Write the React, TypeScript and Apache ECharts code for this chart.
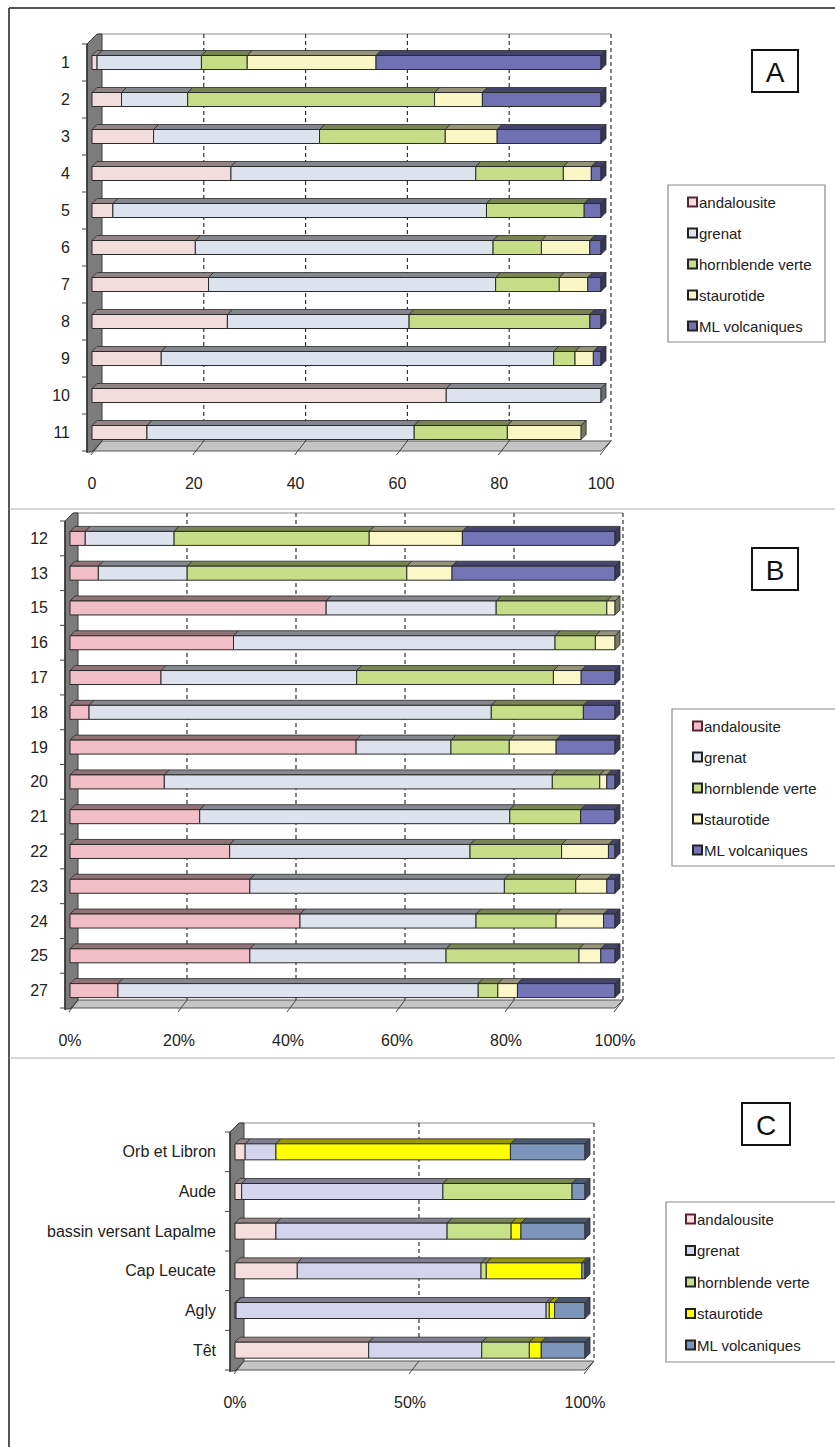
import { useEffect, useRef } from "react";
import * as echarts from "echarts";

// Heavy-mineral assemblages (percent of the counted grains)
const MINERALS = ["andalousite", "grenat", "hornblende verte", "staurotide", "ML volcaniques"];

// Panel A — samples 1 to 11
const CATEGORIES_A = ["1", "2", "3", "4", "5", "6", "7", "8", "9", "10", "11"];
const ANDALOUSITE_A = [1, 5.8, 12.1, 27.3, 4.1, 20.3, 22.9, 26.6, 13.6, 69.6, 10.8];
const GRENAT_A = [20.5, 13, 32.6, 48.1, 73.4, 58.5, 56.4, 35.7, 77.1, 30.4, 52.5];
const HORNBLENDE_A = [9, 48.5, 24.7, 17.2, 19.2, 9.5, 12.5, 35.5, 4.2, 0, 18.3];
const STAUROTIDE_A = [25.3, 9.4, 10.2, 5.5, 0, 9.5, 5.6, 0, 3.6, 0, 14.5];
const ML_A = [44.2, 23.3, 20.4, 1.9, 3.3, 2.2, 2.6, 2.2, 1.5, 0, 0];
const TICKS_A = [0, 20, 40, 60, 80, 100];

// Panel B — samples 12 to 27
const CATEGORIES_B = ["12", "13", "15", "16", "17", "18", "19", "20", "21", "22", "23", "24", "25", "27"];
const ANDALOUSITE_B = [2.8, 5.2, 47, 30, 16.7, 3.5, 52.5, 17.3, 23.8, 29.3, 33, 42.2, 33, 8.8];
const GRENAT_B = [16.3, 16.3, 31.2, 59, 35.9, 73.8, 17.4, 71.2, 56.9, 44.1, 46.7, 32.3, 36, 66.1];
const HORNBLENDE_B = [35.8, 40.3, 20.3, 7.4, 36.1, 16.9, 10.7, 8.7, 13, 16.8, 13.1, 14.7, 24.4, 3.6];
const STAUROTIDE_B = [17.1, 8.3, 1.5, 3.6, 5.1, 0, 8.6, 1.3, 0, 8.6, 5.7, 8.7, 4, 3.6];
const ML_B = [28, 29.9, 0, 0, 6.2, 5.8, 10.8, 1.5, 6.3, 1.2, 1.5, 2.1, 2.6, 17.9];
const TICKS_B = [0, 20, 40, 60, 80, 100];

// Panel C — river catchments and coastal sites
const CATEGORIES_C = ["Orb et Libron", "Aude", "bassin versant Lapalme", "Cap Leucate", "Agly", "Têt"];
const ANDALOUSITE_C = [2.9, 1.9, 11.7, 17.8, 0.3, 38.2];
const GRENAT_C = [8.8, 57.5, 48.9, 52.5, 88.6, 32.3];
const HORNBLENDE_C = [0, 36.9, 18.3, 1.5, 0.9, 13.6];
const STAUROTIDE_C = [67, 0, 2.8, 27.3, 1.5, 3.4];
const ML_C = [21.3, 3.7, 18.3, 0.9, 8.7, 12.5];
const TICKS_C = [0, 50, 100];

const COLORS_A = ["#f3dcdc", "#dce3ed", "#c6dc86", "#faf7c6", "#7070b2"];
const COLORS_B = ["#f1bec7", "#dde2ec", "#c8dd88", "#faf7c8", "#7474b6"];
const COLORS_C = ["#f6dede", "#d4d4ee", "#c8e08a", "#ffff00", "#7d95ba"];

const FONT = '"Liberation Sans", Arial, sans-serif';
const INK = "#222";

type Panel = {
  key: string;
  categories: string[];
  columns: number[][];
  ticks: number[];
  colors: string[];
  percent: boolean;
  grid: { left: number; top: number; width: number; height: number };
  depth: number; // offset of the back wall
  barH: number;
  barD: number;
  labelMargin: number;
  catMargin: number;
  letter: { x: number; y: number; w: number; h: number };
  legend: { x: number; y: number; w: number; h: number; first: number; step: number; mx: number };
};

const PANELS: Panel[] = [
  {
    key: "A",
    categories: CATEGORIES_A,
    columns: [ANDALOUSITE_A, GRENAT_A, HORNBLENDE_A, STAUROTIDE_A, ML_A],
    ticks: TICKS_A,
    colors: COLORS_A,
    percent: false,
    grid: { left: 92, top: 44, width: 509, height: 407 },
    depth: 10,
    barH: 14,
    barD: 5,
    labelMargin: 24,
    catMargin: 22,
    letter: { x: 752, y: 50, w: 46, h: 42 },
    legend: { x: 668, y: 185, w: 157, h: 157, first: 202, step: 31, mx: 688 },
  },
  {
    key: "B",
    categories: CATEGORIES_B,
    columns: [ANDALOUSITE_B, GRENAT_B, HORNBLENDE_B, STAUROTIDE_B, ML_B],
    ticks: TICKS_B,
    colors: COLORS_B,
    percent: true,
    grid: { left: 70, top: 521, width: 545, height: 487 },
    depth: 8,
    barH: 14,
    barD: 5,
    labelMargin: 24,
    catMargin: 22,
    letter: { x: 752, y: 548, w: 46, h: 42 },
    legend: { x: 672, y: 709, w: 175, h: 157, first: 726, step: 31, mx: 693 },
  },
  {
    key: "C",
    categories: CATEGORIES_C,
    columns: [ANDALOUSITE_C, GRENAT_C, HORNBLENDE_C, STAUROTIDE_C, ML_C],
    ticks: TICKS_C,
    colors: COLORS_C,
    percent: true,
    grid: { left: 235, top: 1132, width: 350, height: 238 },
    depth: 9,
    barH: 16,
    barD: 5,
    labelMargin: 24,
    catMargin: 19,
    letter: { x: 742, y: 1103, w: 48, h: 42 },
    legend: { x: 666, y: 1202, w: 180, h: 160, first: 1219, step: 31.5, mx: 686 },
  },
];

function shade(hex: string, f: number): string {
  const n = parseInt(hex.slice(1), 16);
  const r = Math.round(((n >> 16) & 255) * f);
  const g = Math.round(((n >> 8) & 255) * f);
  const b = Math.round((n & 255) * f);
  return `rgb(${r},${g},${b})`;
}

// Turns per-mineral columns into stacked segments [row, start, end, isLastOfRow]
function stackRows(columns: number[][]): number[][][] {
  const n = columns[0].length;
  const out: number[][][] = columns.map(() => []);
  for (let r = 0; r < n; r++) {
    let lastM = -1;
    columns.forEach((col, m) => {
      if (col[r] > 0) lastM = m;
    });
    let acc = 0;
    columns.forEach((col, m) => {
      const v = col[r];
      if (v > 0) out[m].push([r, acc, acc + v, m === lastM ? 1 : 0]);
      acc += v;
    });
  }
  return out;
}

function barRenderer(color: string, h: number, d: number) {
  const topFill = shade(color, 0.6);
  const sideFill = shade(color, 0.48);
  const edge = "#2a2a2a";
  return (_params: any, api: any) => {
    const cat = api.value(0);
    const a = api.coord([api.value(1), cat]);
    const b = api.coord([api.value(2), cat]);
    const x0 = a[0];
    const x1 = b[0];
    const y0 = a[1] - h / 2;
    const children: any[] = [
      {
        type: "polygon",
        shape: { points: [[x0, y0], [x1, y0], [x1 + d, y0 - d], [x0 + d, y0 - d]] },
        style: { fill: topFill, stroke: edge, lineWidth: 0.8 },
      },
      {
        type: "rect",
        shape: { x: x0, y: y0, width: x1 - x0, height: h },
        style: { fill: color, stroke: edge, lineWidth: 1 },
      },
    ];
    if (api.value(3)) {
      children.push({
        type: "polygon",
        shape: { points: [[x1, y0], [x1 + d, y0 - d], [x1 + d, y0 + h - d], [x1, y0 + h]] },
        style: { fill: sideFill, stroke: edge, lineWidth: 0.8 },
      });
    }
    return { type: "group", children };
  };
}

// Back wall, floor and side wall of the 3-D plot area
function decorRenderer(n: number, ticks: number[], D: number) {
  return (params: any, api: any) => {
    const cs = params.coordSys;
    const L = cs.x;
    const T = cs.y;
    const R = cs.x + cs.width;
    const B = cs.y + cs.height;
    const children: any[] = [];
    children.push({
      type: "rect",
      shape: { x: L + D, y: T - D, width: R - L, height: B - T },
      style: { fill: "#fff" },
    });
    children.push({
      type: "line",
      shape: { x1: L + D - 4, y1: T - D, x2: R + D, y2: T - D },
      style: { stroke: "#8c8c8c", lineWidth: 1.2 },
    });
    ticks.forEach((v) => {
      if (v === 0) return;
      const x = api.coord([v, 0])[0] + D;
      children.push({
        type: "line",
        shape: { x1: x, y1: T - D, x2: x, y2: B - D },
        style: { stroke: "#333", lineWidth: 1.2, lineDash: [4, 3] },
      });
    });
    children.push({
      type: "polygon",
      shape: { points: [[L - 5, B], [R, B], [R + D, B - D], [L - 5 + D, B - D]] },
      style: { fill: "#c4c4c4", stroke: "#555", lineWidth: 1 },
    });
    ticks.forEach((v) => {
      const x = api.coord([v, 0])[0];
      children.push({
        type: "line",
        shape: { x1: x - 1, y1: B + 4, x2: x + D, y2: B - D },
        style: { stroke: "#444", lineWidth: 1 },
      });
    });
    children.push({
      type: "polygon",
      shape: { points: [[L - 5, B + 1], [L - 5, T], [L - 5 + D, T - D], [L + D, T - D], [L + D, B - D], [L, B + 1]] },
      style: { fill: "#7c7c7c", stroke: "#3a3a3a", lineWidth: 1 },
    });
    children.push({
      type: "line",
      shape: { x1: L - 5, y1: T, x2: L - 5, y2: B + 2 },
      style: { stroke: "#333", lineWidth: 1.5 },
    });
    for (let i = 0; i <= n; i++) {
      const y = T + (i * (B - T)) / n;
      children.push({
        type: "line",
        shape: { x1: L - 10, y1: y, x2: L - 5, y2: y },
        style: { stroke: "#444", lineWidth: 1 },
      });
    }
    return { type: "group", children };
  };
}

function buildOption() {
  const grid: any[] = [];
  const xAxis: any[] = [];
  const yAxis: any[] = [];
  const series: any[] = [];
  const graphic: any[] = [];

  // outer frame and panel separators
  graphic.push(
    { type: "line", shape: { x1: 9, y1: 8, x2: 835, y2: 8 }, style: { stroke: "#555", lineWidth: 2 } },
    { type: "line", shape: { x1: 9, y1: 8, x2: 9, y2: 1447 }, style: { stroke: "#555", lineWidth: 2 } },
    { type: "line", shape: { x1: 9, y1: 509, x2: 835, y2: 509 }, style: { stroke: "#b0b0b0", lineWidth: 1 } },
    { type: "line", shape: { x1: 9, y1: 1058, x2: 835, y2: 1058 }, style: { stroke: "#b0b0b0", lineWidth: 1 } }
  );

  PANELS.forEach((p, gi) => {
    grid.push({ ...p.grid, containLabel: false });
    const step = p.ticks[1] - p.ticks[0];
    xAxis.push({
      type: "value",
      gridIndex: gi,
      min: p.ticks[0],
      max: p.ticks[p.ticks.length - 1],
      interval: step,
      axisLine: { show: false },
      axisTick: { show: false },
      splitLine: { show: false },
      axisLabel: {
        margin: p.labelMargin,
        fontSize: 16,
        fontFamily: FONT,
        color: INK,
        formatter: p.percent ? "{value}%" : "{value}",
      },
    });
    yAxis.push({
      type: "category",
      gridIndex: gi,
      inverse: true,
      data: p.categories,
      axisLine: { show: false },
      axisTick: { show: false },
      splitLine: { show: false },
      axisLabel: { margin: p.catMargin, fontSize: 16, fontFamily: FONT, color: INK },
    });

    series.push({
      type: "custom",
      name: `plan-${p.key}`,
      xAxisIndex: gi,
      yAxisIndex: gi,
      clip: false,
      silent: true,
      z: 1,
      data: [[0, 0]],
      encode: { x: 0, y: 1 },
      renderItem: decorRenderer(p.categories.length, p.ticks, p.depth),
    });

    const stacked = stackRows(p.columns);
    MINERALS.forEach((m, mi) => {
      series.push({
        type: "custom",
        name: m,
        xAxisIndex: gi,
        yAxisIndex: gi,
        clip: false,
        z: 2,
        data: stacked[mi],
        encode: { x: [1, 2], y: 0 },
        renderItem: barRenderer(p.colors[mi], p.barH, p.barD),
      });
    });

    // panel letter
    graphic.push({
      type: "rect",
      shape: { x: p.letter.x, y: p.letter.y, width: p.letter.w, height: p.letter.h },
      style: { fill: "#fff", stroke: "#111", lineWidth: 2 },
    });
    graphic.push({
      type: "text",
      x: p.letter.x + p.letter.w / 2,
      y: p.letter.y + p.letter.h / 2 + 1,
      style: { text: p.key, fontSize: 28, fontFamily: FONT, fill: "#111", align: "center", verticalAlign: "middle" },
    });

    // legend box
    const lg = p.legend;
    graphic.push({
      type: "rect",
      shape: { x: lg.x, y: lg.y, width: lg.w, height: lg.h },
      style: { fill: "#fff", stroke: "#8a8a8a", lineWidth: 1.2 },
    });
    MINERALS.forEach((m, mi) => {
      const y = lg.first + mi * lg.step;
      graphic.push({
        type: "rect",
        shape: { x: lg.mx, y: y - 4.5, width: 9, height: 9 },
        style: { fill: p.colors[mi], stroke: mi === 0 ? "#5a2434" : "#222", lineWidth: 2 },
      });
      graphic.push({
        type: "text",
        x: lg.mx + 11,
        y,
        style: { text: m, fontSize: 15, fontFamily: FONT, fill: INK, verticalAlign: "middle" },
      });
    });
  });

  return { animation: false, backgroundColor: "#fff", grid, xAxis, yAxis, series, graphic };
}

export default function App() {
  const ref = useRef<HTMLDivElement>(null);
  useEffect(() => {
    if (!ref.current) return;
    const chart = echarts.init(ref.current, undefined, { renderer: "svg" });
    chart.setOption(buildOption() as any);
    return () => chart.dispose();
  }, []);
  return (
    <div
      ref={ref}
      style={{ position: "absolute", left: 0, top: 0, width: 835, height: 1447, background: "#fff" }}
    />
  );
}
